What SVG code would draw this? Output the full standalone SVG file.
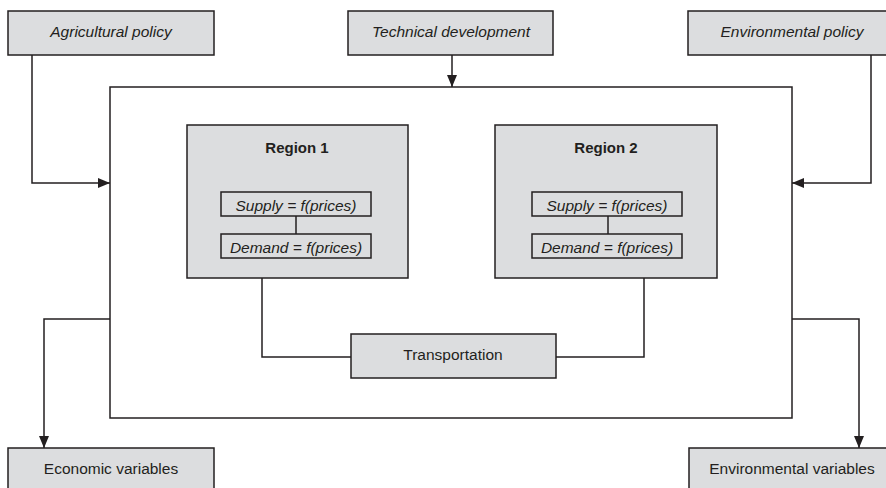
<svg xmlns="http://www.w3.org/2000/svg" width="886" height="488" viewBox="0 0 886 488">
<style>
.box{fill:#dcdddf;stroke:#231f20;stroke-width:1.5}
.frame{fill:none;stroke:#231f20;stroke-width:1.5}
.ln{fill:none;stroke:#231f20;stroke-width:1.5}
text{font-family:"Liberation Sans",Arial,sans-serif;font-size:15.5px;fill:#231f20;text-anchor:middle}
.it{font-style:italic}
.b{font-weight:bold;font-size:15px}
</style>
<defs>
<marker id="ah" viewBox="0 0 12 10" refX="12" refY="5" markerWidth="12" markerHeight="10" markerUnits="userSpaceOnUse" orient="auto">
<path d="M0,0 L12,5 L0,10 z" fill="#231f20"/>
</marker>
</defs>
<rect width="886" height="488" fill="#ffffff"/>
<g id="model">
<rect class="frame" x="110" y="87" width="682" height="331"/>
</g>
<g id="agri"><rect class="box" x="8" y="11" width="206" height="44"/><text class="it" x="111" y="37">Agricultural policy</text></g>
<g id="tech"><rect class="box" x="348" y="11" width="205" height="44"/><text class="it" x="451" y="37">Technical development</text></g>
<g id="envpol"><rect class="box" x="688" y="11" width="210" height="44"/><text class="it" x="792" y="37">Environmental policy</text></g>
<g id="region1">
<rect class="box" x="187" y="125" width="221" height="153"/>
<text class="b" x="297" y="153">Region 1</text>
</g>
<g id="supply1"><rect class="box" x="221" y="192" width="150" height="24"/><text class="it" x="296" y="211">Supply = f(prices)</text></g>
<g id="demand1"><rect class="box" x="221" y="234" width="150" height="24"/><text class="it" x="296" y="253">Demand = f(prices)</text></g>
<g id="region2">
<rect class="box" x="495" y="125" width="222" height="153"/>
<text class="b" x="606" y="153">Region 2</text>
</g>
<g id="supply2"><rect class="box" x="532" y="192" width="150" height="24"/><text class="it" x="607" y="211">Supply = f(prices)</text></g>
<g id="demand2"><rect class="box" x="532" y="234" width="150" height="24"/><text class="it" x="607" y="253">Demand = f(prices)</text></g>
<g id="transport"><rect class="box" x="351" y="334" width="205" height="44"/><text x="453" y="360">Transportation</text></g>
<g id="econ"><rect class="box" x="8" y="448" width="206" height="50"/><text x="111" y="474">Economic variables</text></g>
<g id="envvar"><rect class="box" x="689" y="448" width="206" height="50"/><text x="792" y="474">Environmental variables</text></g>
<g id="connectors">
<path class="ln" d="M32,55 V183 H110" marker-end="url(#ah)"/>
<path class="ln" d="M871,55 V183 H792" marker-end="url(#ah)"/>
<path class="ln" d="M452,55 V87" marker-end="url(#ah)"/>
<path class="ln" d="M296,216 V234"/>
<path class="ln" d="M608,216 V234"/>
<path class="ln" d="M262,278 V357 H351"/>
<path class="ln" d="M644,278 V357 H556"/>
<path class="ln" d="M110,319 H44 V448" marker-end="url(#ah)"/>
<path class="ln" d="M792,319 H859 V448" marker-end="url(#ah)"/>
</g>
</svg>
